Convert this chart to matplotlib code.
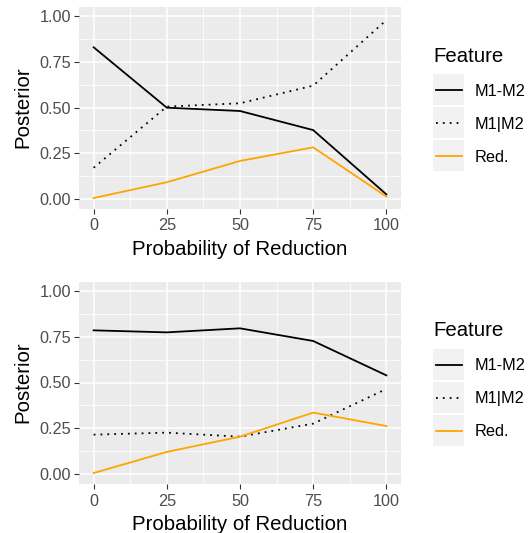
import numpy as np
import matplotlib
matplotlib.use("Agg")
import matplotlib.pyplot as plt
from matplotlib.patches import Rectangle
from matplotlib.lines import Line2D

plt.rcParams['font.family'] = ['Liberation Sans', 'DejaVu Sans']

# data
prob = [0, 25, 50, 75, 100]
features = ['M1-M2', 'M1|M2', 'Red.']

top_m1_m2 = [0.828, 0.499, 0.481, 0.377, 0.027]
top_m1_or = [0.172, 0.505, 0.523, 0.619, 0.976]
top_red = [0.007, 0.093, 0.209, 0.283, 0.015]

bot_m1_m2 = [0.784, 0.773, 0.795, 0.726, 0.539]
bot_m1_or = [0.216, 0.227, 0.205, 0.276, 0.465]
bot_red = [0.007, 0.122, 0.205, 0.336, 0.263]

xticks = [0, 25, 50, 75, 100]
yticks = [0.0, 0.25, 0.5, 0.75, 1.0]
ytick_labels = ['0.00', '0.25', '0.50', '0.75', '1.00']

styles = {
    'M1-M2': dict(color='black', linestyle='-'),
    'M1|M2': dict(color='black', linestyle=(0, (1, 2.8))),
    'Red.': dict(color='#FFA500', linestyle='-'),
}
LW = 1.3
BASE = 14.7
SMALL = 11.7

W, H = 530, 533
fig = plt.figure(figsize=(W / 100, H / 100), dpi=100)


def px_box(x0, y0, x1, y1):
    """pixel box (top-left origin) -> figure fraction rect"""
    return [x0 / W, 1 - y1 / H, (x1 - x0) / W, (y1 - y0) / H]


def draw_panel(y_off, series):
    ax = fig.add_axes(px_box(79, 6.5 + y_off, 401, 208.5 + y_off))
    ax.set_facecolor('#EBEBEB')
    for name, vals in zip(features, series):
        ax.plot(prob, vals, linewidth=LW, **styles[name])
    ax.set_xlim(-5, 105)
    ax.set_ylim(-0.05, 1.05)
    ax.set_xticks(xticks)
    ax.set_xticks([12.5, 37.5, 62.5, 87.5], minor=True)
    ax.set_yticks(yticks)
    ax.set_yticklabels(ytick_labels)
    ax.set_yticks([0.125, 0.375, 0.625, 0.875], minor=True)
    ax.grid(which='major', color='white', linewidth=1.1)
    ax.grid(which='minor', color='white', linewidth=0.55)
    ax.set_axisbelow(True)
    for s in ax.spines.values():
        s.set_visible(False)
    ax.tick_params(which='major', length=3.6, width=0.8, color='#333333',
                   labelcolor='#4D4D4D', labelsize=SMALL)
    ax.tick_params(axis='x', which='major', pad=3.6)
    ax.tick_params(axis='y', which='major', pad=2)
    ax.tick_params(which='minor', length=0)
    fig.text(240 / W, 1 - (249 + y_off) / H, 'Probability of Reduction',
             ha='center', va='center', fontsize=BASE)
    fig.text(23 / W, 1 - (107.5 + y_off) / H, 'Posterior', ha='center',
             va='center', rotation=90, fontsize=BASE)

    # ggplot-like legend on the right
    fig.text(433 / W, 1 - (56 + y_off) / H, 'Feature', ha='left',
             va='center', fontsize=BASE)
    lg = fig.add_axes([0, 0, 1, 1], facecolor='none')
    lg.set_xlim(0, W)
    lg.set_ylim(H, 0)
    lg.axis('off')
    for i, name in enumerate(features):
        top = 74 + 33 * i + y_off
        lg.add_patch(Rectangle((433, top), 31, 31, facecolor='#F2F2F2',
                               edgecolor='none'))
        lg.add_line(Line2D([435.5, 461.5], [top + 15.5, top + 15.5],
                           linewidth=LW, **styles[name]))
        lg.text(475, top + 17, name, ha='left', va='center',
                fontsize=SMALL)
    return ax


draw_panel(0, [top_m1_m2, top_m1_or, top_red])
draw_panel(275, [bot_m1_m2, bot_m1_or, bot_red])

fig.savefig('out.png', dpi=100)
